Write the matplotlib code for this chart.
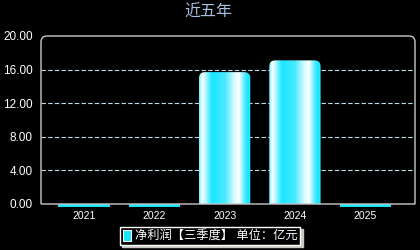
import numpy as np
import matplotlib
matplotlib.use("Agg")
import matplotlib.pyplot as plt
from matplotlib.colors import LinearSegmentedColormap
from matplotlib.patches import FancyBboxPatch, Patch, PathPatch
from matplotlib.path import Path

plt.rcParams['font.family'] = ['Liberation Sans', 'Noto Sans CJK SC', 'DejaVu Sans']

# data
years = ["2021", "2022", "2023", "2024", "2025"]
profit = [-0.35, -0.35, 15.7, 17.1, -0.35]
yticks = [0, 4, 8, 12, 16, 20]
title = "近五年"
legend_label = "净利润【三季度】 单位：亿元"

cyan = "#18e4f8"
grad = LinearSegmentedColormap.from_list("bar", [
    (0.0, "#60eeff"), (0.06, "#ffffff"), (0.13, "#b0f6ff"),
    (0.25, "#18e6ff"), (0.5, "#48eaff"), (0.68, "#d8fbff"),
    (0.77, "#ffffff"), (0.86, "#70eeff"), (0.94, "#18e4ff"),
    (1.0, "#30e8ff")])

W, H = 420, 250
fig = plt.figure(figsize=(4.2, 2.5), dpi=100, facecolor="black")
L, R, T, B = 41, 415, 36, 204
ax = fig.add_axes([L / W, 1 - B / H, (R - L) / W, (B - T) / H])
ax.set_facecolor("black")

x = np.arange(len(years))
bw = 0.73
ax.set_xlim(-0.612, 4.708)
ax.set_ylim(0, 20)

# grid
for v in yticks[1:-1]:
    ax.axhline(v, color="#c0dce8", lw=0.8, ls=(0, (4, 2)), zorder=1)

# px per unit for rounding aspect
px_x = (R - L) / (4.708 + 0.612)
px_y = (B - T) / 20.0
r = 6 / px_x
aspect = px_x / px_y

gimg = np.linspace(0, 1, 256).reshape(1, -1)
for xi, v in zip(x, profit):
    if v > 0:
        box = FancyBboxPatch((xi - bw / 2, -2), bw, v + 2,
                             boxstyle=f"round,pad=0,rounding_size={r}",
                             mutation_aspect=aspect, facecolor="none",
                             edgecolor="none", zorder=2)
        ax.add_patch(box)
        im = ax.imshow(gimg, cmap=grad, aspect="auto", zorder=2,
                       extent=(xi - bw / 2, xi + bw / 2, 0, v))
        im.set_clip_path(box)
    else:
        ax.bar(xi, v, width=bw, color=cyan, clip_on=False, zorder=6)
ax.set_xlim(-0.612, 4.708)
ax.set_ylim(0, 20)

ax.set_xticks(x)
ax.set_xticklabels(years)
ax.set_yticks(yticks)
ax.set_yticklabels([f"{v:.2f}" for v in yticks])
ax.tick_params(axis="x", length=0, pad=5, colors="white", labelsize=7.5)
ax.tick_params(axis="y", length=0, pad=6, colors="white", labelsize=8.5)
for s in ax.spines.values():
    s.set_visible(False)

# frame with rounded top corners
fc = "#c8c8c8"
rx, ry = 6 / W, 6 / H
x0, x1 = L / W, R / W
y0, y1 = 1 - B / H, 1 - T / H
verts = [(x0, y0), (x0, y1 - ry), (x0, y1), (x0 + rx, y1),
         (x1 - rx, y1), (x1, y1), (x1, y1 - ry), (x1, y0), (x0, y0)]
codes = [Path.MOVETO, Path.LINETO, Path.CURVE3, Path.CURVE3,
         Path.LINETO, Path.CURVE3, Path.CURVE3, Path.LINETO, Path.LINETO]
fig.patches.append(PathPatch(Path(verts, codes), transform=fig.transFigure,
                             facecolor="none", edgecolor=fc, lw=1.0, zorder=5))

fig.text(0.497, 1 - 12 / H, title, color="#a8c0e0", fontsize=11.5,
         ha="center", va="center")

handle = Patch(facecolor=cyan, edgecolor="white", lw=0.8)
leg = fig.legend([handle], [legend_label], loc="center",
                 bbox_to_anchor=(0.5, 1 - 236 / H), frameon=True,
                 fancybox=False, shadow={"color": "#c8c8c0", "alpha": 1, "ox": 1.5, "oy": -1.5},
                 fontsize=8.8, handlelength=0.7, handleheight=1.0,
                 handletextpad=0.3, borderpad=0.25, borderaxespad=0)
leg.get_frame().set_facecolor("black")
leg.get_frame().set_edgecolor("white")
leg.get_frame().set_linewidth(1.0)
for t in leg.get_texts():
    t.set_color("white")

fig.savefig("out.png", dpi=100, facecolor="black")
